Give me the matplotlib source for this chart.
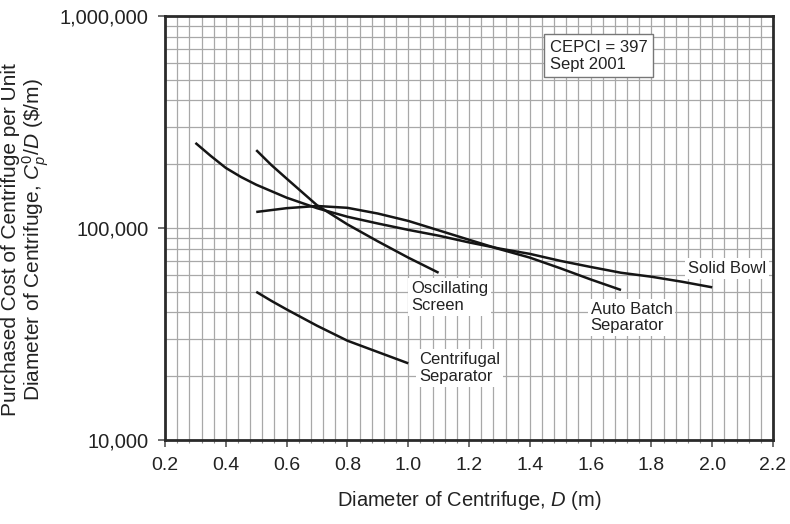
import matplotlib
matplotlib.use("Agg")
import matplotlib.pyplot as plt
from matplotlib.ticker import MultipleLocator, LogLocator, FuncFormatter, NullFormatter

plt.rcParams['font.family'] = ['Liberation Sans', 'DejaVu Sans']
plt.rcParams['mathtext.fontset'] = 'custom'
plt.rcParams['mathtext.rm'] = 'Liberation Sans'
plt.rcParams['mathtext.it'] = 'Liberation Sans:italic'

# purchased cost per unit diameter, $/m (CEPCI 397)
solid_bowl_d = [0.3, 0.35, 0.4, 0.45, 0.5, 0.6, 0.7, 0.8, 0.9, 1.0, 1.1, 1.2, 1.3, 1.4, 1.5, 1.6, 1.7, 1.8, 1.9, 2.0]
solid_bowl_c = [252000, 219000, 192000, 174000, 160000, 139000, 124000, 113000, 105000, 98000, 92000,
                85500, 80000, 75500, 70000, 65500, 61500, 58900, 55800, 52500]

auto_batch_d = [0.5, 0.6, 0.7, 0.8, 0.9, 1.0, 1.1, 1.2, 1.3, 1.4, 1.5, 1.6, 1.7]
auto_batch_c = [119000, 124000, 127000, 124500, 117000, 108000, 97500, 88000, 79500, 72500,
                64600, 57200, 51000]

oscillating_d = [0.5, 0.55, 0.6, 0.7, 0.8, 0.9, 1.0, 1.1]
oscillating_c = [233000, 198000, 171000, 128000, 104000, 86500, 72500, 61500]

centrifugal_d = [0.5, 0.55, 0.6, 0.7, 0.8, 0.9, 1.0]
centrifugal_c = [50000, 45300, 41300, 34600, 29400, 26000, 23000]

curve_labels = ["Solid Bowl", "Auto Batch\nSeparator", "Oscillating\nScreen", "Centrifugal\nSeparator"]
label_x = [1.92, 1.60, 1.01, 1.035]
label_y = [64500, 37800, 47300, 21900]

fig = plt.figure(figsize=(7.9, 5.24), dpi=100)
ax = fig.add_axes([0.2089, 0.1603, 0.7696, 0.8092])

for d, c in [(solid_bowl_d, solid_bowl_c), (auto_batch_d, auto_batch_c),
             (oscillating_d, oscillating_c), (centrifugal_d, centrifugal_c)]:
    ax.plot(d, c, color='#151515', lw=1.8, zorder=4, solid_capstyle='butt', solid_joinstyle='round')

ax.set_yscale('log')
ax.set_xlim(0.2, 2.2)
ax.set_ylim(10000, 1000000)

ax.xaxis.set_major_locator(MultipleLocator(0.2))
ax.xaxis.set_minor_locator(MultipleLocator(0.04))
ax.xaxis.set_major_formatter(FuncFormatter(lambda v, p: f"{v:.1f}"))
ax.yaxis.set_major_locator(LogLocator(base=10, numticks=5))
ax.yaxis.set_minor_locator(LogLocator(base=10, subs=range(2, 10), numticks=20))
ax.yaxis.set_major_formatter(FuncFormatter(lambda v, p: f"{v:,.0f}"))
ax.yaxis.set_minor_formatter(NullFormatter())

ax.grid(which='both', color='#a8a8a8', lw=0.9, zorder=0)
ax.set_axisbelow(True)

for s in ax.spines.values():
    s.set_linewidth(2.0)
    s.set_color('#2a2a2a')

ax.tick_params(which='major', direction='out', length=5, width=1.2, color='#555555',
               labelsize=14, labelcolor='#222222', pad=7)
ax.tick_params(axis='y', which='major', labelsize=14.5)
ax.tick_params(axis='x', which='minor', direction='out', length=2.5, width=0.8, color='#888888')
ax.tick_params(axis='y', which='minor', length=0)

ax.set_xlabel("Diameter of Centrifuge, $D$ (m)", fontsize=14.5, color='#222222', labelpad=11)
fig.text(26 / 790, 1 - 240 / 524,
         "Purchased Cost of Centrifuge per Unit\nDiameter of Centrifuge, $C_p^0/D$ (\\$/m)",
         rotation=90, ha='center', va='center', fontsize=15, color='#222222', linespacing=1.05)

for txt, x, y in zip(curve_labels, label_x, label_y):
    ax.text(x, y, txt, fontsize=12, color='#222222', ha='left', va='center', zorder=5,
            linespacing=1.15,
            bbox=dict(facecolor='white', edgecolor='none', pad=2))

ax.text(0.633, 0.944, "CEPCI = 397\nSept 2001", transform=ax.transAxes, fontsize=12,
        color='#222222', ha='left', va='top', zorder=5, linespacing=1.15,
        bbox=dict(facecolor='white', edgecolor='#777777', lw=1.0, boxstyle='square,pad=0.35'))

fig.savefig("out.png", dpi=100, facecolor='white')
